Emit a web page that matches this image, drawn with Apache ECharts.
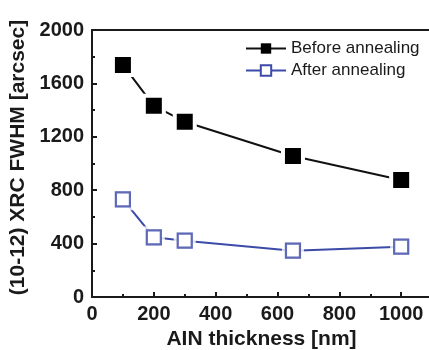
<!DOCTYPE html>
<html>
<head>
<meta charset="utf-8">
<script src="https://cdn.jsdelivr.net/npm/echarts@6/dist/echarts.min.js"></script>
<style>
  html, body { margin: 0; padding: 0; background: #fff; }
  #chart { width: 429px; height: 350px; }
</style>
</head>
<body>
<div id="chart"></div>
<script>
// AlN thickness (nm)
const thickness = [100, 200, 300, 650, 1000];
// (10-12) XRC FWHM values, arcsec
const beforeAnnealing = [1738, 1432, 1313, 1056, 876];
const afterAnnealing = [732, 447, 422, 347, 377];
const seriesNames = ['Before annealing', 'After annealing'];

const FONT = 'Liberation Sans, Arial, sans-serif';
const BLUE = '#3c4aa8';
const INK = '#1a1a1a';

const pairs = (ys) => thickness.map((x, i) => [x, ys[i]]);

const chart = echarts.init(document.getElementById('chart'));
const option = {
  backgroundColor: '#fff',
  animation: false,
  grid: {
    left: 92,
    top: 30,
    right: -34, // axis runs past the picture edge
    bottom: 53,
    outerBoundsMode: 'none',
  },
  legend: {
    orient: 'vertical',
    left: 240,
    top: 35,
    itemWidth: 40,
    itemHeight: 13,
    itemGap: 5,
    textStyle: { fontSize: 17, color: INK, fontFamily: FONT },
    data: [
      { name: seriesNames[0], itemStyle: { borderWidth: 0 } },
      { name: seriesNames[1] },
    ],
  },
  xAxis: [
    {
      type: 'value',
      min: 0,
      max: 1200,
      interval: 200,
      name: 'AIN thickness [nm]',
      nameLocation: 'middle',
      nameGap: 31,
      nameTextStyle: {
        fontSize: 21,
        fontWeight: 'bold',
        color: INK,
        fontFamily: FONT,
        padding: [0, 32, 0, 0],
      },
      axisLine: { lineStyle: { color: INK, width: 2 } },
      axisTick: { inside: true, length: 5, lineStyle: { color: INK, width: 2 } },
      minorTick: { show: true, splitNumber: 2, length: 3, lineStyle: { color: INK, width: 2 } },
      splitLine: { show: false },
      axisLabel: {
        fontSize: 20,
        fontWeight: 'bold',
        color: INK,
        fontFamily: FONT,
        margin: 7,
        formatter: (v) => (v <= 1000 ? String(v) : ''),
      },
    },
    {
      type: 'value',
      position: 'top',
      min: 0,
      max: 1200,
      axisLine: { show: true, lineStyle: { color: INK, width: 2 } },
      axisTick: { show: false },
      axisLabel: { show: false },
      splitLine: { show: false },
    },
  ],
  yAxis: {
    type: 'value',
    min: 0,
    max: 2000,
    interval: 400,
    name: '(10-12) XRC FWHM [arcsec]',
    nameLocation: 'middle',
    nameRotate: 90,
    nameGap: 56,
    nameTextStyle: {
      fontSize: 21,
      fontWeight: 'bold',
      color: INK,
      fontFamily: FONT,
      padding: [0, 0, 0, 12],
    },
    axisLine: { show: true, lineStyle: { color: INK, width: 2 } },
    axisTick: { inside: true, length: 5, lineStyle: { color: INK, width: 2 } },
    minorTick: { show: true, splitNumber: 2, length: 3, lineStyle: { color: INK, width: 2 } },
    splitLine: { show: false },
    axisLabel: {
      fontSize: 20,
      fontWeight: 'bold',
      color: INK,
      fontFamily: FONT,
      margin: 8,
      formatter: (v) => String(v),
    },
  },
  series: [
    {
      name: seriesNames[0],
      type: 'line',
      data: pairs(beforeAnnealing),
      symbol: 'rect',
      symbolSize: 20,
      lineStyle: { color: '#111', width: 2 },
      itemStyle: { color: '#000', borderColor: '#fff', borderWidth: 4 },
      z: 2,
    },
    {
      name: seriesNames[1],
      type: 'line',
      data: pairs(afterAnnealing),
      symbol: 'rect',
      symbolSize: 14,
      lineStyle: { color: BLUE, width: 2 },
      itemStyle: { color: '#fff', borderColor: BLUE, borderWidth: 2.2 },
      z: 2,
    },
    {
      // white halo that opens a gap between line and open squares
      name: 'halo',
      type: 'scatter',
      data: pairs(afterAnnealing),
      symbol: 'rect',
      symbolSize: 22,
      itemStyle: { color: '#fff' },
      silent: true,
      z: 3,
    },
    {
      name: 'after-marks',
      type: 'scatter',
      data: pairs(afterAnnealing),
      symbol: 'rect',
      symbolSize: 14,
      itemStyle: { color: '#fff', borderColor: BLUE, borderWidth: 2.2 },
      silent: true,
      z: 4,
    },
  ],
};
chart.setOption(option);
</script>
</body>
</html>
